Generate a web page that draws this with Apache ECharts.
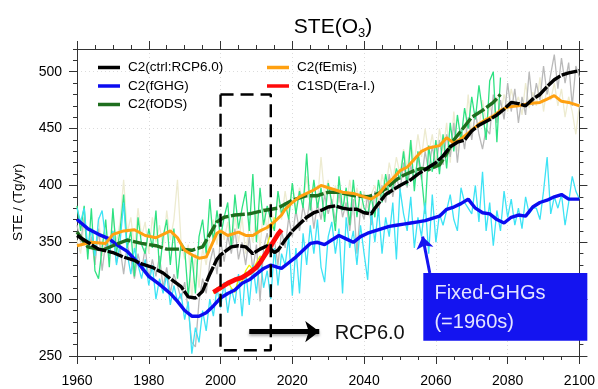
<!DOCTYPE html>
<html>
<head>
<meta charset="utf-8">
<script src="https://cdn.jsdelivr.net/npm/echarts@6/dist/echarts.min.js"></script>
<style>
  html, body { margin: 0; padding: 0; background: #fff; }
  #chart { width: 598px; height: 389px; }
</style>
</head>
<body>
<div id="chart"></div>
<script>
const FONT = '"Liberation Sans", Arial, sans-serif';

// running means, [year, Tg/yr]
const ctrlMean = [[1960,356],[1963,350],[1966,344],[1970,341],[1973,337],[1976,334],[1978,331],[1981,328],[1984,323],[1986,318],
  [1989,311],[1991,302],[1993,301],[1995,307],[1997,322],[1999,335],[2000,339],[2003,346],[2005,347],[2007,346],
  [2009,340],[2011,344],[2013,347],[2015,341],[2016,343],[2018,352],[2020,360],[2022,366],[2024,372],[2026,376],
  [2028,378],[2030,381],[2032,382],[2034,380],[2036,379],[2038,379],[2040,376],[2042,375],[2043,380],[2046,392],
  [2048,396],[2050,400],[2053,405],[2055,410],[2058,416],[2060,420],[2062,426],[2064,434],[2066,438],[2068,440],
  [2070,448],[2072,453],[2075,458],[2077,462],[2079,467],[2081,473],[2083,472],[2085,470],[2087,476],[2089,480],
  [2091,487],[2093,493],[2095,497],[2097,499],[2100,501]];
const fghgMean = [[1960,370],[1963,362],[1966,357],[1969,353],[1971,348],[1974,342],[1977,332],[1980,320],[1983,313],[1986,305],
  [1988,298],[1990,290],[1992,285],[1994,285],[1996,288],[1998,294],[2000,301],[2002,305],[2004,308],[2006,314],
  [2008,317],[2010,322],[2012,327],[2014,330],[2016,328],[2017,327],[2019,332],[2021,337],[2023,343],[2025,349],
  [2027,350],[2029,348],[2031,352],[2033,356],[2035,353],[2037,350],[2039,355],[2041,358],[2043,360],[2045,362],
  [2047,364],[2049,365],[2051,366],[2053,367],[2055,368],[2057,369],[2059,371],[2061,373],[2063,379],[2065,381],
  [2067,384],[2069,388],[2071,380],[2073,376],[2075,375],[2077,370],[2079,367],[2081,372],[2083,374],[2085,373],
  [2087,381],[2089,385],[2091,387],[2093,390],[2095,392],[2097,388],[2100,388]];
const fodsMean = [[1960,359],[1963,346],[1967,343],[1970,347],[1974,352],[1978,349],[1982,347],[1985,344],[1989,344],[1992,343],
  [1995,346],[1997,357],[1999,368],[2001,372],[2004,374],[2008,375],[2012,378],[2016,380],[2020,387],[2024,391],
  [2027,391],[2030,394],[2033,394],[2037,391],[2041,390],[2044,393],[2046,397],[2049,405],[2051,409],[2054,413],
  [2056,415],[2058,414],[2061,418],[2063,428],[2065,440],[2067,448],[2070,460],[2073,466],[2076,473],[2078,480]];
const femisMean = [[1960,347],[1964,350],[1968,349],[1970,357],[1973,360],[1976,361],[1979,356],[1982,354],[1984,357],[1986,360],
  [1988,354],[1990,343],[1992,339],[1994,336],[1996,337],[1997,344],[1999,358],[2000,360],[2002,356],[2005,359],
  [2007,356],[2009,356],[2011,360],[2013,363],[2015,368],[2017,374],[2018,379],[2020,385],[2022,390],[2024,393],
  [2026,396],[2028,400],[2030,398],[2032,396],[2034,394],[2037,393],[2039,391],[2042,388],[2044,392],[2046,400],
  [2048,406],[2050,413],[2052,416],[2054,423],[2056,430],[2058,433],[2061,435],[2063,442],[2065,437],[2067,441],
  [2069,446],[2072,454],[2074,458],[2076,461],[2078,466],[2080,469],[2083,470],[2086,472],[2089,473],[2091,476],
  [2093,479],[2095,474],[2097,473],[2100,470]];
const eraMean = [[1998,306],[2000,310],[2002,314],[2004,317],[2006,319],[2008,323],[2010,328],[2011,332],[2012,337],
  [2013,342],[2014,347],[2015,352],[2016,357],[2017,361]];

// annual values, one per year from the start year
const ctrlAnnualStart = 1960;
const ctrlAnnual = [365,350,372,340,355,330,362,325,350,338, 360,332,345,322,348,336,318,340,325,345,
  318,335,320,338,310,328,305,322,312,300, 315,290,262,258,298,318,305,332,345,322,
  352,333,356,340,362,335,350,330,355,325, 348,298,345,358,338,352,330,360,345,372,
  355,378,360,382,368,390,362,385,370,392, 375,388,368,394,372,385,360,388,340,380,
  370,392,365,395,375,400,385,410,390,408, 395,420,398,418,402,425,405,430,412,435,
  415,440,418,445,425,455,420,450,432,460, 440,465,445,432,450,445,480,455,475,458,
  490,465,485,455,478,462,500,470,490,475, 505,480,498,515,485,512,490,508,470,505, 495];
const fghgAnnualStart = 1960;
const fghgAnnual = [380,368,380,345,362,338,370,378,352,340, 360,330,350,385,340,322,345,330,318,335,
  312,330,300,318,305,322,295,312,298,305, 282,298,252,275,262,290,272,300,285,310,
  292,315,288,310,296,322,285,325,295,330, 305,338,310,325,300,345,312,340,330,355,
  303,345,305,358,330,365,340,370,328,315, 355,368,340,362,305,372,345,360,330,365,
  340,317,378,350,380,340,372,355,385,335, 397,375,360,390,345,372,355,385,340,392,
  350,375,365,378,392,370,360,398,385,380, 375,400,368,412,360,385,347,378,360,395,
  372,388,365,380,362,390,375,380,380,370, 395,425,375,390,380,392,365,385,408,395, 388];
const fodsAnnualStart = 1960;
const fodsAnnual = [382,360,382,335,380,325,318,345,370,328, 380,340,360,392,345,360,320,372,348,340,
  362,345,378,325,355,370,330,362,318,350, 345,302,340,305,355,370,340,388,350,378,
  355,372,385,345,392,362,380,395,360,410, 350,398,365,382,370,360,395,375,385,370,
  402,375,395,380,428,378,405,380,398,368, 402,385,360,408,378,398,365,405,372,395,
  380,375,390,372,405,385,410,392,398,415, 405,430,400,440,395,430,408,375,435,412,
  440,410,445,415,455,430,462,440,468,450, 478,458,488,465,440,492,500,438,495];
const femisAnnualStart = 1960;
const femisAnnual = [352,340,368,345,360,330,372,338,365,342, 375,350,368,405,358,372,345,380,355,368,
  340,372,350,365,345,378,352,370,405,350, 335,348,300,340,310,345,330,355,370,348,
  372,352,368,345,375,350,372,340,365,350, 375,345,380,360,385,362,390,370,395,375,
  402,378,398,385,408,382,400,385,425,390, 405,380,400,385,395,378,405,382,398,375,
  395,380,392,400,385,410,395,420,405,425, 410,432,415,440,420,445,425,450,428,445,
  420,450,430,455,420,465,430,450,440,480, 445,462,450,475,455,470,460,478,462,480,
  465,485,470,478,462,490,468,482,470,495, 465,488,475,490,470,485,460,478,465,445, 472];
const eraAnnualStart = 1998;
const eraAnnual = [305,310,308,312,315,310,306,318,315,325,330,326,332,338,335,348,358,372];

// annotations
const rcpBox = [[2000,480],[2014,480],[2014,255],[2000,255],[2000,480]];
const rcpArrow = [[2008,271.5],[2027.5,271.5]];
const ghgArrow = [[2058.3,323],[2056.3,355]];
const ghgBox = [[2056.5,323],[2102.2,263.4]];
const yTicks = [250,300,350,400,450,500];

const annual = (start, vals) => vals.map((v, i) => [start + i, v]);

const thin = (name, data, color) => ({
  type: 'line', name, data, color, symbol: 'none', silent: true,
  lineStyle: { color, width: 1.3 }
});
const thick = (name, data, color, dash, width) => ({
  type: 'line', name, data, color, symbol: 'none',
  lineStyle: { color, width: width || 3.4, type: dash || 'solid' }
});

const axisColor = '#333';
const xBase = {
  type: 'value', min: 1960, max: 2100, interval: 20,
  axisLine: { lineStyle: { color: axisColor, width: 1 } },
  axisTick: { length: 8, lineStyle: { color: axisColor } },
  minorTick: { show: true, splitNumber: 4, length: 4, lineStyle: { color: axisColor } }
};
const yMinor = (position) => ({
  type: 'value', min: 250, max: 520, interval: 10, position,
  axisLine: { show: true, lineStyle: { color: axisColor, width: 1 } },
  axisTick: { length: 4, lineStyle: { color: axisColor } },
  axisLabel: { show: false }, splitLine: { show: false }
});
const yMajor = (position, labels) => ({
  type: 'value', min: 250, max: 520, position,
  axisLine: { show: false },
  axisTick: { show: true, length: 8, customValues: yTicks, lineStyle: { color: axisColor } },
  axisLabel: labels ? { customValues: yTicks, fontSize: 14, color: '#000', fontFamily: FONT, margin: 15 } : { show: false },
  splitLine: labels ? { show: true, lineStyle: { color: '#dcdcdc', type: [1, 3] } } : { show: false },
  name: labels ? 'STE / (Tg/yr)' : '', nameLocation: 'middle', nameGap: 52,
  nameTextStyle: { fontSize: 13.5, color: '#000', fontFamily: FONT }
});

const chart = echarts.init(document.getElementById('chart'));

chart.setOption({
  animation: false,
  textStyle: { fontFamily: FONT },
  title: {
    text: 'STE(O{sub|3})',
    left: 328, top: 10, textAlign: 'center',
    textStyle: {
      fontSize: 21, fontWeight: 'normal', color: '#000', fontFamily: FONT,
      rich: { sub: { fontSize: 13, fontFamily: FONT, padding: [12, 0, 0, 0] } }
    }
  },
  grid: { left: 77, right: 18, top: 49, bottom: 33 },
  legend: [
    {
      data: ['C2(ctrl:RCP6.0)', 'C2(fGHG)', 'C2(fODS)'],
      left: 93, top: 55, orient: 'vertical', icon: 'rect', itemWidth: 22, itemHeight: 3.5, itemGap: 3.5,
      selectedMode: false, textStyle: { fontSize: 13.5, lineHeight: 15, color: '#000', padding: [0, 0, 0, 3] }
    },
    {
      data: ['C2(fEmis)', 'C1SD(Era-I.)'],
      left: 262, top: 55, orient: 'vertical', icon: 'rect', itemWidth: 22, itemHeight: 3.5, itemGap: 3.5,
      selectedMode: false, textStyle: { fontSize: 13.5, lineHeight: 15, color: '#000', padding: [0, 0, 0, 3] }
    }
  ],
  xAxis: [
    Object.assign({}, xBase, {
      position: 'bottom',
      axisLabel: { fontSize: 14, color: '#000', fontFamily: FONT, margin: 18, formatter: (v) => String(v) },
      splitLine: { show: true, lineStyle: { color: '#dcdcdc', type: [1, 3] } }
    }),
    Object.assign({}, xBase, { position: 'top', axisLabel: { show: false }, splitLine: { show: false } })
  ],
  yAxis: [yMinor('left'), yMajor('left', true), yMinor('right'), yMajor('right', false)],
  series: [
    thin('fEmis annual', annual(femisAnnualStart, femisAnnual), '#edebd0'),
    thin('ctrl annual', annual(ctrlAnnualStart, ctrlAnnual), '#b9b9b9'),
    thin('fODS annual', annual(fodsAnnualStart, fodsAnnual), '#2fe282'),
    thin('fGHG annual', annual(fghgAnnualStart, fghgAnnual), '#3de3f5'),
    thin('Era-I annual', annual(eraAnnualStart, eraAnnual), '#f2f200'),
    thick('C2(fGHG)', fghgMean, '#0c0cf0'),
    thick('C2(fODS)', fodsMean, '#1e6e1e', [14, 2.5]),
    thick('C2(fEmis)', femisMean, '#ffa010', null, 3),
    thick('C2(ctrl:RCP6.0)', ctrlMean, '#000000', [16, 1.5]),
    thick('C1SD(Era-I.)', eraMean, '#ff0a0a', null, 4.8),
    {
      type: 'line', name: 'window', data: rcpBox, symbol: 'none', silent: true,
      lineStyle: { color: '#000', width: 2.4, type: [13, 7] }
    },
    {
      type: 'line', name: 'arrows', data: [], silent: true,
      markLine: {
        silent: true, animation: false, label: { show: false },
        data: [
          [{ coord: rcpArrow[0], symbol: 'none', lineStyle: { color: '#000', width: 5, type: 'solid',
              shadowColor: 'rgba(0,0,0,0.35)', shadowBlur: 3, shadowOffsetY: 2 } },
           { coord: rcpArrow[1], symbol: 'arrow', symbolSize: [16, 14] }],
          [{ coord: ghgArrow[0], symbol: 'none', lineStyle: { color: '#1414f0', width: 3, type: 'solid', curveness: 0.15 } },
           { coord: ghgArrow[1], symbol: 'arrow', symbolSize: [13, 12] }]
        ]
      }
    }
  ]
});

// text annotations placed through the chart's own scales
const px = (p) => chart.convertToPixel({ xAxisIndex: 0, yAxisIndex: 0 }, p);
const boxTL = px(ghgBox[0]);
const boxBR = px(ghgBox[1]);
const t1 = px([2059.6, 305.3]);
const t2 = px([2059.6, 279.8]);
const rcpLabel = px([2031.8, 270.2]);

chart.setOption({
  graphic: [
    {
      type: 'rect', z: 100,
      shape: { x: boxTL[0], y: boxTL[1], width: boxBR[0] - boxTL[0], height: boxBR[1] - boxTL[1] },
      style: { fill: '#1414f0' }
    },
    {
      type: 'text', z: 101, x: t1[0], y: t1[1],
      style: { text: 'Fixed-GHGs', fill: '#e4e4ff', font: '20px ' + FONT, verticalAlign: 'middle' }
    },
    {
      type: 'text', z: 101, x: t2[0], y: t2[1],
      style: { text: '(=1960s)', fill: '#e4e4ff', font: '20px ' + FONT, verticalAlign: 'middle' }
    },
    {
      type: 'text', z: 101, x: rcpLabel[0], y: rcpLabel[1],
      style: { text: 'RCP6.0', fill: '#111', font: '20px ' + FONT, verticalAlign: 'middle' }
    }
  ]
});
</script>
</body>
</html>
